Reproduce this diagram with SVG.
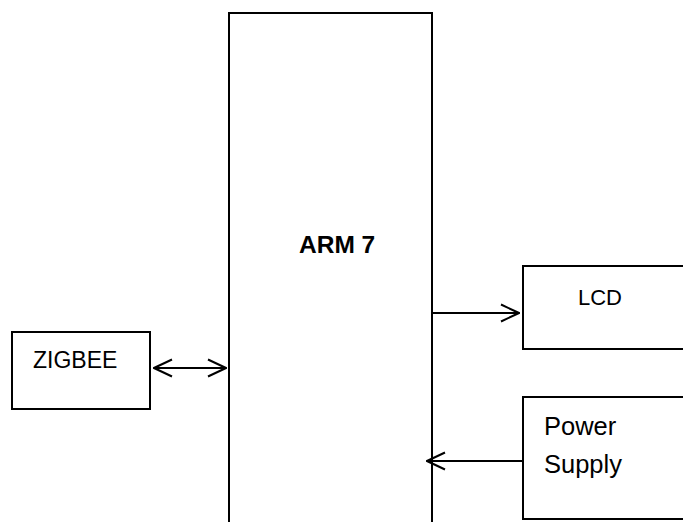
<svg xmlns="http://www.w3.org/2000/svg" width="683" height="522" viewBox="0 0 683 522">
<style>
.box{fill:none;stroke:#000;stroke-width:2}
.con{fill:none;stroke:#000;stroke-width:2}
.t{font-family:"Liberation Sans",Arial,sans-serif;fill:#000}
</style>
<defs>
<marker id="chev" viewBox="0 0 20 20" refX="19" refY="10" markerWidth="20" markerHeight="20" markerUnits="userSpaceOnUse" orient="auto-start-reverse">
<path d="M1,1.5 L19,10 L1,18.5" fill="none" stroke="#000" stroke-width="2"/>
</marker>
</defs>
<rect width="683" height="522" fill="#fff"/>
<g id="arm7">
<path class="box" d="M229,522 V13 H432 V522"/>
<text class="t" x="299" y="253" font-size="24.5" font-weight="bold">ARM 7</text>
</g>
<g id="zigbee">
<rect class="box" x="12" y="332" width="138" height="77"/>
<text class="t" x="33" y="368" font-size="23">ZIGBEE</text>
</g>
<g id="lcd">
<path class="box" d="M684,266 H523 V349 H684"/>
<text class="t" x="578" y="305" font-size="22">LCD</text>
</g>
<g id="power">
<path class="box" d="M684,397 H523 V519 H684"/>
<text class="t" x="544" y="435" font-size="25.5">Power</text>
<text class="t" x="544" y="473" font-size="25.5">Supply</text>
</g>
<g id="connectors">
<line class="con" x1="154" y1="368" x2="226" y2="368" marker-start="url(#chev)" marker-end="url(#chev)"/>
<line class="con" x1="432" y1="313" x2="519" y2="313" marker-end="url(#chev)"/>
<line class="con" x1="523" y1="461" x2="427" y2="461" marker-end="url(#chev)"/>
</g>
</svg>
